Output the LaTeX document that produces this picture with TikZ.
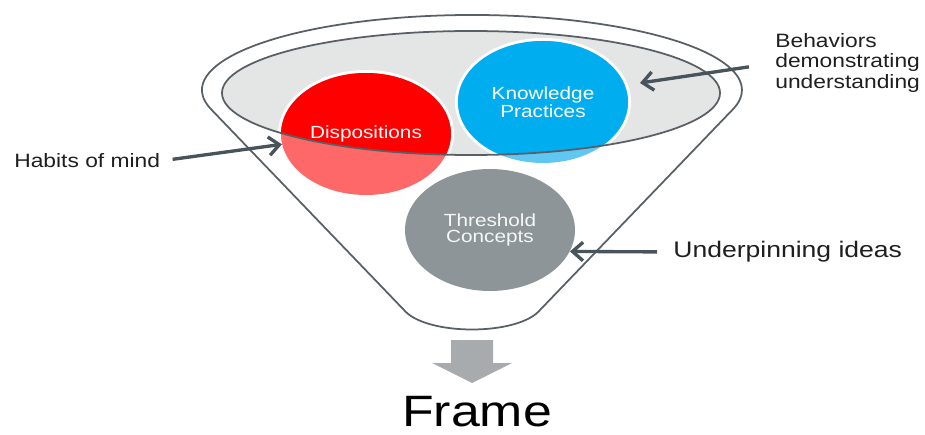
\documentclass[tikz,border=0pt]{standalone}
\usepackage{fontspec}
\setmainfont{Liberation Sans}[FakeStretch=1.18]
\usepackage{tikz}
\usetikzlibrary{arrows.meta, positioning, shapes}
\definecolor{dispred}{RGB}{254, 0, 0}
\definecolor{dispredlight}{RGB}{255, 104, 104}
\definecolor{kpblue}{RGB}{0, 174, 239}
\definecolor{kpbluelight}{RGB}{96, 199, 242}
\definecolor{tcgray}{RGB}{141, 149, 153}
\definecolor{rimfill}{RGB}{228, 229, 229}
\definecolor{rimline}{RGB}{88, 96, 101}
\definecolor{pointergray}{RGB}{72, 84, 91}
\definecolor{chutegray}{RGB}{167, 171, 173}
\tikzset{
    funnel/.style={
        draw=rimline,
        fill=white,
        line width=1pt
    },
    bubble/.style={
        ellipse,
        minimum width=3.4cm,
        minimum height=2.44cm,
        inner sep=0pt,
        align=center,
        text=white,
        font=\fontsize{10}{9.2}\selectfont
    },
    note/.style={
        inner sep=0pt,
        text=black!88,
        font=\fontsize{11}{11.4}\selectfont
    },
    pointer/.style={
        -{Straight Barb[length=6pt, width=10.5pt]},
        draw=pointergray,
        line width=1.9pt
    }
}

\begin{document}
\begin{tikzpicture}[x=0.02cm, y=-0.02cm]
    \useasboundingbox (0,0) rectangle (925,435);
    % centres of the rim, the mouth and the three discs
    \coordinate (rim)   at (472,90);
    \coordinate (mouth) at (471,93);
    \coordinate (dc)    at (366,134);
    \coordinate (kc)    at (543,102);
    \coordinate (tc)    at (490,230);

    % funnel body: back rim, sloping sides and a rounded spout
    \draw[funnel] (rim) ++(165:270 and 75)
        arc[start angle=165, end angle=375, x radius=270, y radius=75]
        -- (540,310) .. controls (518,336) and (426,336) .. (404,310) -- cycle;
    \fill[rimfill] (mouth) ellipse[x radius=249, y radius=62];

    % discs are pale below the rim and solid inside it
    \fill[white] (dc) ellipse[x radius=88, y radius=64];
    \fill[white] (kc) ellipse[x radius=88, y radius=64];
    \fill[dispredlight] (dc) ellipse[x radius=85, y radius=61];
    \fill[kpbluelight]  (kc) ellipse[x radius=85, y radius=61];
    \begin{scope}
        \clip (mouth) ellipse[x radius=249, y radius=62];
        \fill[dispred] (dc) ellipse[x radius=85, y radius=61];
        \fill[kpblue]  (kc) ellipse[x radius=85, y radius=61];
    \end{scope}
    \draw[rimline, line width=1pt] (mouth) ellipse[x radius=249, y radius=62];

    \node[bubble] (disp) at (dc) {Dispositions};
    \node[bubble] (kp)   at (kc) {Knowledge\\Practices};
    \node[bubble, fill=tcgray, text=white!92!tcgray] (thr) at (tc) {Threshold\\Concepts};

    % side notes
    \node[note, anchor=west] (habits) at (14,161) {Habits of mind};
    \node[note, anchor=west, align=left] (beh) at (775,63)
        {Behaviors\\demonstrating\\understanding};
    \node[note, anchor=west, font=\fontsize{12.8}{14}\selectfont] (under) at (673,252)
        {Underpinning ideas};
    \coordinate (behtip) at (640,83);

    \draw[pointer, shorten <=7pt]  (habits.east) -- (disp.187);
    \draw[pointer, shorten <=15pt] (beh.west) -- (behtip);
    \draw[pointer, shorten <=9pt]  (under.west) -- (thr.-15);

    % spout output
    \node[anchor=base, inner sep=0pt, font=\fontsize{25}{30}\selectfont] (frame) at (477,426) {Frame};
    \fill[chutegray] (451,340) -- (493,340) -- (493,363) -- (512,363)
        -- (472,383) -- (432,363) -- (451,363) -- cycle;
\end{tikzpicture}
\end{document}
